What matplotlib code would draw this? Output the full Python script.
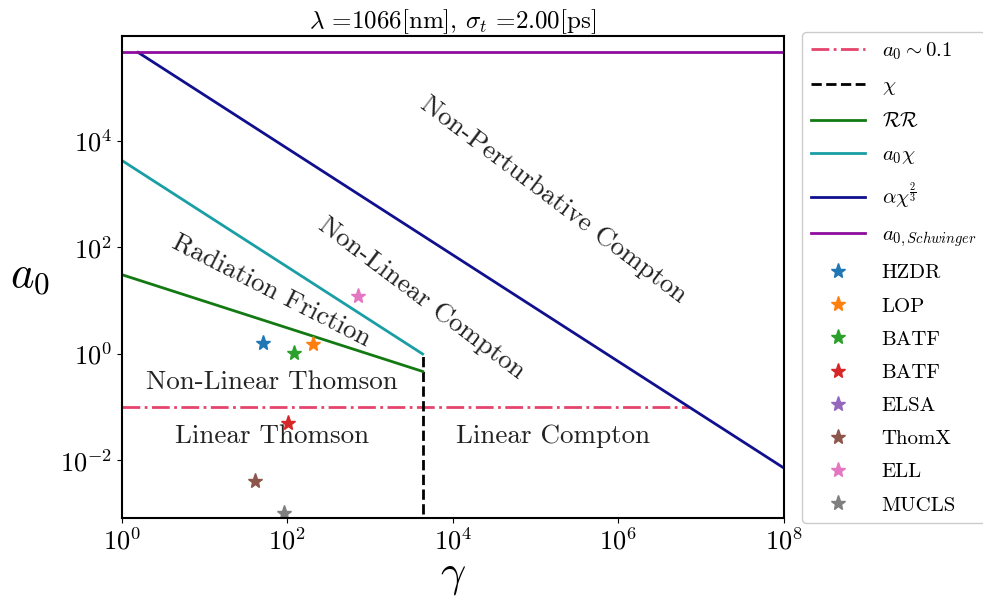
import matplotlib
matplotlib.use("Agg")
import matplotlib.pyplot as plt
from matplotlib.ticker import NullLocator

plt.rcParams["font.family"] = ["cmr10", "DejaVu Serif"]
plt.rcParams["mathtext.fontset"] = "cm"
plt.rcParams["axes.formatter.use_mathtext"] = True

# Regime boundaries (gamma, a0) endpoints
a0_low_gamma = [1, 7.2e6]
a0_low_a0 = [0.1, 0.1]
chi_gamma = [4300, 4300]
chi_a0 = [1e-3, 1.0]
rr_gamma = [1, 4300]
rr_a0 = [30.8, 0.47]
a0chi_gamma = [1, 4300]
a0chi_a0 = [4300, 1.0]
alpha_gamma = [1.57, 1e8]
alpha_a0 = [4.6e5, 7.2e-3]
schwinger_gamma = [1, 1e8]
schwinger_a0 = [4.6e5, 4.6e5]

# Facilities
facility_names = ["HZDR", "LOP", "BATF", "BATF", "ELSA", "ThomX", "ELL", "MUCLS"]
facility_gamma = [51, 205, 121, 102, 70, 41, 708, 92]
facility_a0 = [1.63, 1.54, 1.05, 0.051, 3e-4, 0.0042, 12.3, 0.00105]
facility_colors = ["#1f77b4", "#ff7f0e", "#2ca02c", "#d62728",
                   "#9467bd", "#8c564b", "#e377c2", "#7f7f7f"]

x_ticks = [1e0, 1e2, 1e4, 1e6, 1e8]
y_ticks = [1e-2, 1e0, 1e2, 1e4]

fig = plt.figure(figsize=(9.83, 6.02), dpi=100)
ax = fig.add_axes([0.124, 0.1395, 0.6735, 0.8005])

lw = 2.0
ax.plot(a0_low_gamma, a0_low_a0, color="#e5446d", ls="-.", lw=lw, label=r"$a_0 \sim 0.1$")
ax.plot(chi_gamma, chi_a0, color="black", ls="--", lw=lw, label=r"$\chi$")
ax.plot(rr_gamma, rr_a0, color="#137a13", lw=lw, label=r"$\mathcal{RR}$")
ax.plot(a0chi_gamma, a0chi_a0, color="#1a9ea5", lw=lw, label=r"$a_0\chi$")
ax.plot(alpha_gamma, alpha_a0, color="#10108f", lw=lw, label=r"$\alpha\chi^{\frac{2}{3}}$")
ax.plot(schwinger_gamma, schwinger_a0, color="#8e0c9e", lw=lw, label=r"$a_{0,Schwinger}$")

for name, g, a, c in zip(facility_names, facility_gamma, facility_a0, facility_colors):
    ax.plot([g], [a], ls="none", marker="*", ms=11, color=c, label=name)

ax.set_xscale("log")
ax.set_yscale("log")
ax.set_xlim(1, 1e8)
ax.set_ylim(8.3e-4, 9.3e5)
ax.set_xticks(x_ticks)
ax.set_yticks(y_ticks)
ax.xaxis.set_minor_locator(NullLocator())
ax.yaxis.set_minor_locator(NullLocator())
ax.tick_params(labelsize=19)
for s in ax.spines.values():
    s.set_linewidth(1.5)

ax.set_xlabel(r"$\gamma$", fontsize=32, labelpad=2)
ax.set_ylabel(r"$a_0$", fontsize=32, rotation=0, labelpad=22, va="center")
ax.set_title(r"$\lambda$ =1066[nm], $\sigma_t$ =2.00[ps]", fontsize=18, pad=3)

tkw = dict(fontsize=19.5, ha="center", va="center", rotation_mode="anchor", color="#222222")
ax.text(65, 0.29, "Non-Linear Thomson", **tkw)
ax.text(65, 0.029, "Linear Thomson", **tkw)
ax.text(1.6e5, 0.029, "Linear Compton", **tkw)
ax.text(64, 15, "Radiation Friction", rotation=-27, **tkw)
ax.text(4250, 11, "Non-Linear Compton", rotation=-37, **tkw)
ax.text(1.66e5, 776, "Non-Perturbative Compton", rotation=-37, **tkw)

ax.legend(loc="upper left", bbox_to_anchor=(1.028, 1.008), fontsize=15,
          labelspacing=0.70, handlelength=2.6, borderaxespad=0.0,
          fancybox=True, framealpha=1.0, edgecolor="#cccccc")

fig.savefig("out.png", dpi=100)
